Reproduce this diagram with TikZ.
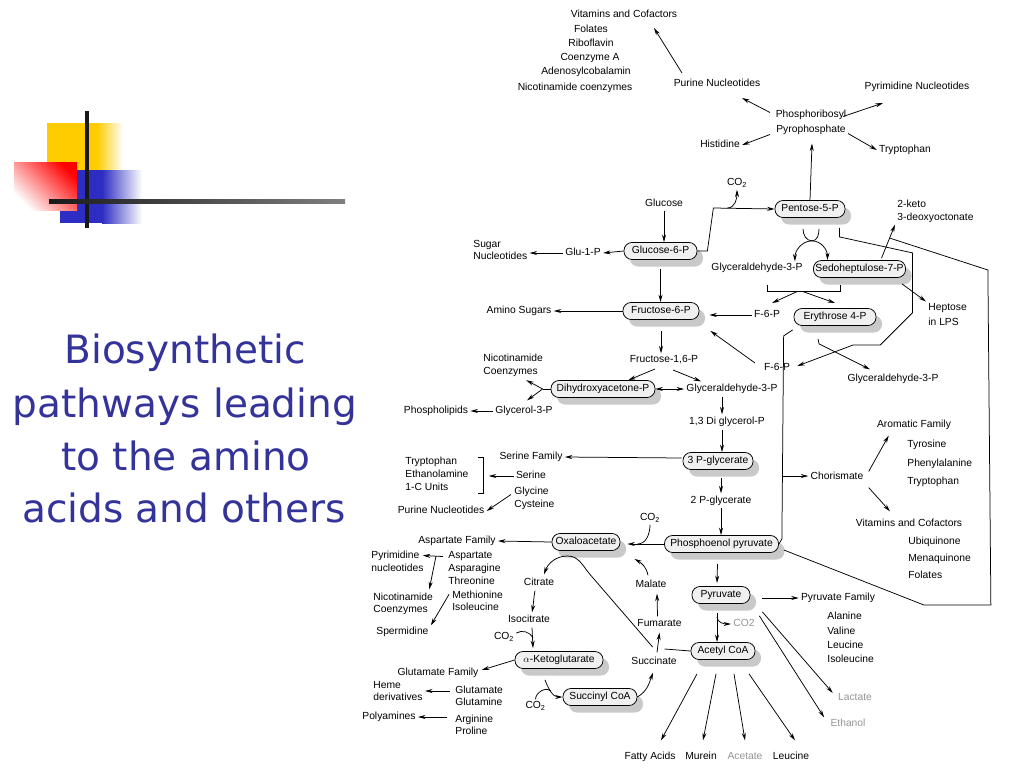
\documentclass[tikz,border=0pt]{standalone}
\usepackage{fontspec}
\setmainfont{Liberation Sans}
\newfontfamily\titlefont{DejaVu Sans}
\usetikzlibrary{arrows.meta,calc,shadows}
\definecolor{titleblue}{RGB}{51,51,153}
\definecolor{logoyellow}{RGB}{255,204,0}
\definecolor{logoblue}{RGB}{45,45,195}
\newcommand\lblfont{\fontsize{10.3}{12}\selectfont}
\tikzset{
  txt/.style={font=\lblfont, inner xsep=2pt, inner ysep=1.5pt, text height=7.5pt, text depth=2pt},
  txtm/.style={font=\lblfont, inner xsep=2pt, inner ysep=1.5pt, align=left},
  faint/.style={txt, text=black!42},
  mol/.style={txt, draw, fill=gray!12, rounded corners=8pt, inner xsep=2pt, minimum height=17pt,
    drop shadow={shadow xshift=6pt, shadow yshift=-7pt, fill=gray!42, opacity=1}},
  heading/.style={font=\titlefont\fontsize{39}{53}\selectfont, text=titleblue, inner sep=0pt}
}
\begin{document}
\begin{tikzpicture}[x=1pt, y=-1pt, >={Stealth[length=7.5pt,width=4pt]}, line width=0.75pt]
\fill[white] (0,0) rectangle (1024,768);
\useasboundingbox (0,0) rectangle (1024,768);
% logo
\fill[logoyellow] (47,123) rectangle (97,170);
\shade[left color=logoyellow, right color=white] (97,123) rectangle (123,170);
\fill[logoblue] (60,170) rectangle (102,223);
\shade[left color=logoblue, right color=white] (102,170) rectangle (142,223);
\shade[top color=red, bottom color=white, shading angle=-45] (14,162) rectangle (77,210);
\fill[black!90] (85,111) rectangle (89,228);
\shade[left color=black!90, right color=black!50] (49,199) rectangle (345,203);
% title
\node[heading, anchor=base] (t1) at (185,363) {Biosynthetic};
\node[heading, anchor=base] (t2) at (185,417) {pathways leading};
\node[heading, anchor=base] (t3) at (186,470) {to the amino};
\node[heading, anchor=base] (t4) at (184,522) {acids and others};
% top: nucleotides
\node[txt] (vitA) at (624,15) {Vitamins and Cofactors};
\node[txt] (fol) at (591,30) {Folates};
\node[txt] (ribo) at (591,44) {Riboflavin};
\node[txt] (coA) at (590,58) {Coenzyme A};
\node[txt] (adeno) at (586,72) {Adenosylcobalamin};
\node[txt] (nicA) at (575,88) {Nicotinamide coenzymes};
\node[txt] (purA) at (717,84) {Purine Nucleotides};
\node[txt] (pyrA) at (917,87) {Pyrimidine Nucleotides};
\node[txtm, align=center] (prpp) at (811,122.5) {Phosphoribosyl\\[3pt]Pyrophosphate};
\node[txt] (his) at (720,145) {Histidine};
\node[txt] (trpA) at (905,150) {Tryptophan};
% sugars
\node[txt] (co2a) at (737,183) {CO\textsubscript{2}};
\node[txt] (glc) at (664,204) {Glucose};
\node[mol, minimum width=73pt] (g6p) at (660.5,251) {Glucose-6-P};
\node[txt] (g1p) at (583,253) {Glu-1-P};
\node[txtm, anchor=west] (sugar) at (471,250) {Sugar\\Nucleotides};
\node[mol, minimum width=70pt] (pent) at (810,209) {Pentose-5-P};
\node[txt] (ga3pA) at (757,268) {Glyceraldehyde-3-P};
\node[mol, minimum width=92pt] (sedo) at (859.5,269) {Sedoheptulose-7-P};
\node[txtm, anchor=west] (keto) at (895,211.5) {2-keto\\[1pt]3-deoxyoctonate};
\node[txtm, anchor=west] (hept) at (926,314.5) {Heptose\\[3pt]in LPS};
\node[mol, minimum width=76pt] (f6p) at (661,311) {Fructose-6-P};
\node[txt] (amino) at (519,311) {Amino Sugars};
\node[txt] (f6pA) at (767,315) {F-6-P};
\node[mol, minimum width=82pt] (e4p) at (835,317) {Erythrose 4-P};
\node[txt] (f6pB) at (777,368) {F-6-P};
\node[txt] (ga3pB) at (893,379) {Glyceraldehyde-3-P};
\node[txt] (fbp) at (664,360) {Fructose-1,6-P};
\node[txtm, anchor=west] (nicB) at (481,365) {Nicotinamide\\[1pt]Coenzymes};
\node[mol, minimum width=104pt] (dhap) at (603,389) {Dihydroxyacetone-P};
\node[txt] (ga3pC) at (732,389) {Glyceraldehyde-3-P};
\node[txt] (g3p) at (524,411) {Glycerol-3-P};
\node[txt] (phos) at (436,411) {Phospholipids};
\node[txt] (dpg) at (727,422) {1,3 Di glycerol-P};
\node[mol, minimum width=70pt] (pg3) at (718,461) {3 P-glycerate};
\node[txt] (serF) at (531,457) {Serine Family};
\node[txt] (ser) at (531,476) {Serine};
\node[txtm, anchor=west] (trpL) at (403,474) {Tryptophan\\[1pt]Ethanolamine\\[1pt]1-C Units};
\node[txtm, anchor=west] (glyc) at (512,498.5) {Glycine\\[1pt]Cysteine};
\node[txt] (purB) at (441,511) {Purine Nucleotides};
\node[txt] (pg2) at (721,501) {2 P-glycerate};
% aromatic
\node[txt] (chor) at (837,477) {Chorismate};
\node[txt] (aro) at (914,425) {Aromatic Family};
\node[txtm, anchor=west] (aroL) at (905,463.5) {Tyrosine\\[6.5pt]Phenylalanine\\[6.5pt]Tryptophan};
\node[txt] (vitB) at (909,524) {Vitamins and Cofactors};
\node[txtm, anchor=west] (vitL) at (906,558) {Ubiquinone\\[5pt]Menaquinone\\[5pt]Folates};
% TCA and friends
\node[mol, minimum width=114pt] (pep) at (721.5,544) {Phosphoenol pyruvate};
\node[txt] (co2b) at (650,518) {CO\textsubscript{2}};
\node[mol, minimum width=68pt] (oaa) at (586,542) {Oxaloacetate};
\node[txt] (aspF) at (457,541) {Aspartate Family};
\node[txtm, anchor=west] (pyrB) at (369,561.5) {Pyrimidine\\[1pt]nucleotides};
\node[txtm, anchor=west] (aspL) at (446,568) {Aspartate\\[1pt]Asparagine\\[1pt]Threonine};
\node[txtm, anchor=west] (metL) at (450,601) {Methionine\\Isoleucine};
\node[txtm, anchor=west] (nicC) at (371,604) {Nicotinamide\\Coenzymes};
\node[txt, anchor=west] (sperm) at (374,632) {Spermidine};
\node[txt] (citr) at (539,583) {Citrate};
\node[txt] (isoc) at (529,620) {Isocitrate};
\node[txt] (co2c) at (504,637) {CO\textsubscript{2}};
\node[mol, minimum width=88pt] (akg) at (559,660) {$\alpha$-Ketoglutarate};
\node[txt] (malate) at (651,585) {Malate};
\node[txt] (fum) at (659.5,624) {Fumarate};
\node[txt] (succn) at (654,662) {Succinate};
\node[mol, minimum width=74pt] (succ) at (600,697) {Succinyl CoA};
\node[txt] (co2d) at (535.5,706) {CO\textsubscript{2}};
\node[txt] (gluF) at (438,673) {Glutamate Family};
\node[txtm, anchor=west] (heme) at (371,691) {Heme\\derivatives};
\node[txtm, anchor=west] (gluL) at (453,696) {Glutamate\\Glutamine};
\node[txt] (polyA) at (389,717) {Polyamines};
\node[txtm, anchor=west] (argL) at (453,725) {Arginine\\Proline};
\node[mol, minimum width=58pt] (pyr) at (721,595) {Pyruvate};
\node[mol, minimum width=64pt] (acoa) at (723,651) {Acetyl CoA};
\node[faint] (co2e) at (744,624) {CO2};
\node[txt] (pyrF) at (838,598) {Pyruvate Family};
\node[txtm, anchor=west] (pyrL) at (825,637.5) {Alanine\\[2.3pt]Valine\\[2.3pt]Leucine\\[2.3pt]Isoleucine};
\node[faint] (lact) at (855,698) {Lactate};
\node[faint] (eth) at (848,724) {Ethanol};
\node[txt] (fatty) at (650,757) {Fatty Acids};
\node[txt] (murein) at (701,757) {Murein};
\node[faint] (acet) at (745,757) {Acetate};
\node[txt] (leuB) at (791,757) {Leucine};
% connectors round PRPP
\draw[->] ($(prpp)+(-41,-10)$) -- ($(purA)+(25,14)$);
\draw[->] ($(prpp)+(32,-6)$) -- ($(pyrA)+(-34,16)$);
\draw[->] ($(prpp)+(-41,12)$) -- (his.east);
\draw[->] ($(prpp)+(37,11)$) -- (trpA.west);
\draw[->] ($(purA)+(-35,-11)$) -- ($(vitA)+(30,13)$);
\draw[->] (pent.north) -- ($(prpp)+(1,21)$);
% glucose, pentose phosphate
\draw[->] (glc.south) -- (glc.south |- g6p.north);
\draw[->] (g6p.west) -- (g1p.east);
\draw[->] (g1p.west) -- (g1p.west -| sugar.east);
\draw[->] (g6p.east) -- ++(10,0) -- ++(6,-43) coordinate (gbend) -- (pent.west);
\draw[->] ([xshift=14pt]gbend) to[out=0,in=-90] (co2a.south);
\coordinate (pm) at ($(pent.south)+(2,23)$);
\draw ($(pm)+(-9,-12)$) to[out=-90,in=180] (pm) to[out=0,in=-90] ($(pm)+(7,-12)$);
\draw[->] (pm) to[out=180,in=90] ($(ga3pA.north east)+(-10,0)$);
\draw[->] (pm) to[out=0,in=90] ($(sedo.north)+(-32,0)$);
\draw ($(ga3pA.south)+(10,10)$) coordinate (bl) -- ++(0,7) -- ++(73,0) -- ++(0,-7);
\draw[->] ($(bl)+(30,7)$) -- ($(f6pA)+(5,-12)$);
\draw[->] ($(bl)+(36,7)$) -- ($(e4p)+(0,-14)$);
\draw[->] (f6pA.west) -- ($(f6p.east)+(10,4)$);
\draw[->] ($(f6pB)+(-22,-5)$) -- ($(f6p.south east)+(11,11)$);
\draw[->] ($(pent.south east)+(-6,10)$) -- ++(0,9) -- ++(73,16) -- ++(0,60) -- ++(-32,32) -- ++(-27,0) -- ($(f6pB.east)+(5,-2)$);
\draw ($(e4p.south west)+(-1,4)$) -- ++(-9,6) -- coordinate[pos=0.69] (chj) ($(pep.east)+(3,-5)$) -- (pep.east);
\draw[->] (chj) -- (chj -| chor.west);
\draw[->] ($(e4p.south)+(-17,13)$) -- ++(1,5) -- ($(ga3pB.north)+(-23,-3)$);
\draw[->] ($(sedo.north)+(22,-2)$) -- coordinate[pos=0.6] (kdo) (keto.south west);
\draw[->] ($(sedo.south east)+(-4,6)$) -- (hept.north west);
\draw ($(pep.east)+(5,6)$) -- ++(140,55) -- ++(67,0) -- ++(-3,-335) -- (kdo);
% glycolysis
\draw[->] ($(g6p.south)+(0,9)$) -- (g6p.south |- f6p.north);
\draw[->] (f6p.west) -- (amino.east);
\draw[->] ($(f6p.south)+(0,11)$) -- (f6p.south |- fbp.north);
\draw[->] ($(fbp)+(-9,9)$) -- ($(dhap.north east)+(-27,0)$);
\draw[->] ($(fbp)+(9,10)$) -- ($(ga3pC.north)+(-31,-1)$);
\draw[<->] (dhap.east) -- (ga3pC.west);
\draw (dhap.west) -- ++(-8,0) coordinate (dj);
\draw[->] (dj) -- ($(nicB.south east)+(-19,2)$);
\draw[->] (dj) -- ($(g3p.north)+(3,-4)$);
\draw[->] (g3p.west) -- (phos.east);
\draw[->] ($(ga3pC.south)+(-10,1)$) -- ($(dpg.north)+(-5,-1)$);
\draw[->] ($(dpg.south)+(-5,1)$) -- ($(pg3.north)+(4,0)$);
\draw[->] ($(pg3.west)+(-1,-3)$) -- (serF.east);
\draw ($(trpL.east)+(7,-17)$) -- ++(6,0) coordinate (brt) -- ++(0,36) -- ++(-6,0);
\draw[->, shorten >=5pt] (ser.west) -- (ser.west -| brt);
\draw[->] ($(glyc.west)+(-1,-4)$) -- (purB.east);
\draw[->] ($(pg3.south)+(3,8)$) -- ($(pg2.north)+(0,-1)$);
\draw[->] (pg2.south) -- (pg2.south |- pep.north);
\draw[->] ($(chor.north east)+(3,1)$) -- ($(aro.south west)+(14,4)$);
\draw[->] ($(chor.south east)+(3,4)$) -- ($(vitB.north)+(-19,-6)$);
% oxaloacetate branch
\draw[->] (pep.west) -- ($(oaa.east)+(7,2)$);
\draw (co2b.south) to[out=-90,in=0] ($(oaa.east)+(17,2)$);
\draw[->] (oaa.west) -- (aspF.east);
\draw[->] ($(aspL.north west)+(-3,7)$) -- coordinate[pos=0.35] (aj) ($(pyrB.east)+(-3,-6)$);
\draw[->] (aj) -- ($(nicC.north east)+(-6,-2)$);
\draw[->] ($(metL.north west)+(-1,5)$) -- (sperm.north east);
% TCA cycle
\draw (acoa.west) -- ++(-26,-2);
\draw[->] ($(acoa.west)+(-38,-4)$) -- ++(-63,-73) to[out=130,in=0] ++(-22,-18) to[out=180,in=70] ($(citr.north)+(5,-2)$);
\draw[->] ($(citr.south)+(-4,1)$) to[out=-100,in=80] ($(isoc.north)+(3,-1)$);
\draw[->] ($(isoc.south)+(3,1)$) -- ($(akg.north)+(-26,-3)$);
\draw ($(co2c.east)+(0,-4)$) to[out=30,in=120] ($(isoc.south)+(4,11)$);
\draw[->] ($(akg.south)+(-14,11)$) to[out=-70,in=180] (succ.west);
\draw (co2d.north) to[out=90,in=135] ($(succ.west)+(-12,-6)$);
\draw[->] (succ.east) to[out=30,in=-110] ($(succn.south)+(-1,4)$);
\draw[->] ($(succn.north)+(3,-3)$) -- ($(fum.south)+(0,2)$);
\draw[->] ($(fum.north)+(-2,-1)$) -- ($(malate.south)+(6,2)$);
\draw[->] ($(malate.north)+(-3,-3)$) to[out=100,in=-30] ($(oaa.south east)+(14,8)$);
\draw[->] (akg.west) -- ($(gluF.east)+(1,-3)$);
\draw[->] ($(gluL.west)+(-3,-5)$) -- (heme.east);
\draw[->] ($(argL.west)+(-6,-8)$) -- (polyA.east);
% pyruvate and acetyl CoA
\draw[->] ($(pep.south)+(-4,11)$) -- ($(pyr.north)+(-4,-3)$);
\draw[->] ($(pyr.south)+(-4,9)$) -- ($(acoa.north)+(-6,0)$);
\draw[->] ($(pyr.south)+(-4,13)$) to[out=-90,in=180] (co2e.west);
\draw[->] ($(pyr.east)+(12,3)$) -- (pyrF.west);
\draw[->] ($(pyr.south east)+(12,8)$) -- ($(lact.west)+(-3,-5)$);
\draw[->] ($(pyr.south east)+(9,12)$) -- ($(eth.north west)+(-4,0)$);
\draw[->] ($(acoa.south)+(-26,14)$) -- ($(fatty.north)+(11,-10)$);
\draw[->] ($(acoa.south)+(-7,14)$) -- ($(murein.north)+(2,-10)$);
\draw[->] ($(acoa.south)+(11,14)$) -- ($(acet.north)+(0,-10)$);
\draw[->] ($(acoa.south)+(26,14)$) -- ($(leuB.north)+(4,-10)$);
\end{tikzpicture}
\end{document}
